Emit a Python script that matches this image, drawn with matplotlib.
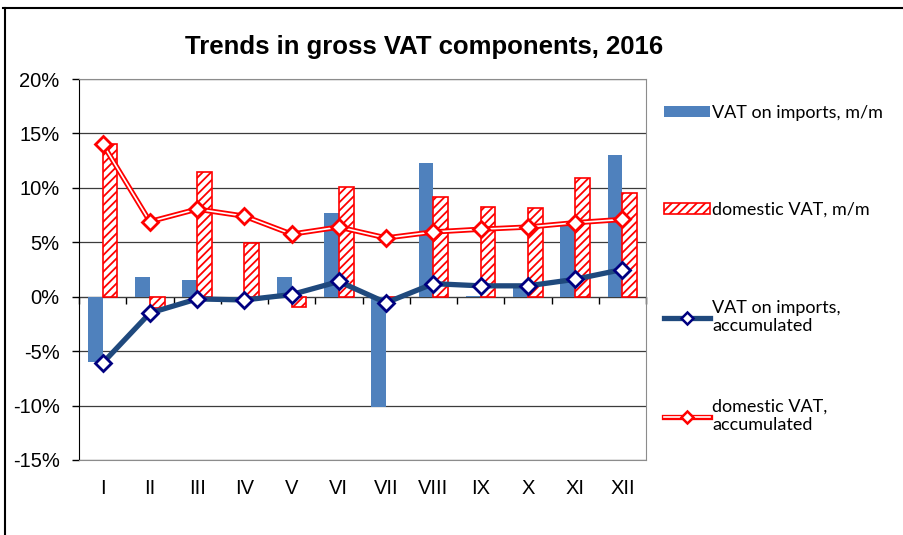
import numpy as np
import matplotlib.pyplot as plt
from matplotlib.lines import Line2D
from matplotlib.patches import Patch
from matplotlib.ticker import FuncFormatter

# months and values (%)
months = ['I', 'II', 'III', 'IV', 'V', 'VI', 'VII', 'VIII', 'IX', 'X', 'XI', 'XII']
imports_mm = [-6.0, 1.8, 1.5, -0.3, 1.8, 7.7, -10.1, 12.3, 0.1, 0.9, 6.5, 13.0]
domestic_mm = [14.0, -1.0, 11.5, 4.95, -0.9, 10.1, 0.0, 9.2, 8.25, 8.15, 10.9, 9.55]
imports_acc = [-6.1, -1.5, -0.2, -0.3, 0.2, 1.4, -0.55, 1.2, 1.0, 1.0, 1.6, 2.5]
domestic_acc = [14.05, 6.9, 8.05, 7.4, 5.75, 6.4, 5.4, 5.95, 6.2, 6.4, 6.8, 7.1]
y_ticks = [-15, -10, -5, 0, 5, 10, 15, 20]
labels = ['VAT on imports, m/m', 'domestic VAT, m/m',
          'VAT on imports,\naccumulated', 'domestic VAT,\naccumulated']

plt.rcParams['font.family'] = ['Liberation Sans', 'DejaVu Sans']
plt.rcParams['hatch.linewidth'] = 1.3

BLUE = '#4F81BD'
NAVY_LINE = '#1F497D'
MS = 7.8
MEW = 2.0

fig = plt.figure(figsize=(9.04, 5.35), dpi=100)
ax = fig.add_axes([0.0874, 0.1402, 0.6272, 0.7121])

x = np.arange(len(months))
w = 0.31
ax.bar(x - w / 2, imports_mm, w, color=BLUE, zorder=2)
ax.bar(x + w / 2, domestic_mm, w, facecolor='white', edgecolor='red',
       hatch='////', linewidth=1.2, zorder=2)

# imports accumulated
ax.plot(x, imports_acc, color=NAVY_LINE, lw=3.8, marker='D', ms=MS,
        mfc='white', mec='#000080', mew=MEW, zorder=5)
# domestic accumulated, double red line
ax.plot(x, domestic_acc, color='red', lw=3.8, zorder=3)
ax.plot(x, domestic_acc, color='white', lw=1.2, zorder=3.1)
ax.plot(x, domestic_acc, ls='none', marker='D', ms=MS, mfc='white',
        mec='red', mew=MEW, zorder=3.2)

ax.set_xlim(-0.5, len(months) - 0.5)
ax.set_ylim(-15, 20)
ax.set_yticks(y_ticks)
ax.yaxis.set_major_formatter(FuncFormatter(lambda v, p: '%d%%' % v))
ax.set_xticks(x, months)
ax.tick_params(axis='x', length=0, pad=14, labelsize=14.5)
ax.tick_params(axis='y', length=5, width=1, direction='out', pad=9, labelsize=14.5)

ax.set_axisbelow(True)
ax.yaxis.grid(True, color='#3c3c3c', lw=0.9)
for s in ['top', 'right', 'bottom']:
    ax.spines[s].set_color('#8c8c8c')
ax.spines['left'].set_color('black')

# category axis crossing at 0%
sec = ax.secondary_xaxis(0, transform=ax.transData)
sec.set_xticks(np.arange(len(months) + 1) - 0.5)
sec.tick_params(length=5, width=1, labelbottom=False, color='black')
sec.spines['bottom'].set_color('black')

fig.text(0.469, 1 - 47 / 535, 'Trends in gross VAT components, 2016',
         ha='center', va='center', fontsize=18.5, fontweight='bold')

handles = [
    Patch(facecolor=BLUE),
    Patch(facecolor='white', edgecolor='red', hatch='////', linewidth=1.2),
    Line2D([], [], color=NAVY_LINE, lw=3.8, marker='D', ms=6.5,
           mfc='white', mec='#000080', mew=1.8),
    (Line2D([], [], color='red', lw=3.8), Line2D([], [], color='white', lw=1.2),
     Line2D([], [], ls='none', marker='D', ms=6.5, mfc='white', mec='red', mew=1.8)),
]
entry_y = [113, 210, 317, 416]
for h, lab, yy in zip(handles, labels, entry_y):
    fig.legend([h], [lab], loc='center left', bbox_to_anchor=(0.735, 1 - yy / 535),
               frameon=False, prop={'family': 'Lato', 'size': 13},
               handlelength=2.5, handleheight=0.5, handletextpad=0.15,
               borderpad=0, borderaxespad=0)

# outer frame (top and left edge)
fig.add_artist(Line2D([0.0055, 0.0055], [0, 0.985], transform=fig.transFigure,
                      color='black', lw=1.5))
fig.add_artist(Line2D([0.0033, 1], [0.985, 0.985], transform=fig.transFigure,
                      color='black', lw=1.5))

fig.savefig('out.png', dpi=100)
